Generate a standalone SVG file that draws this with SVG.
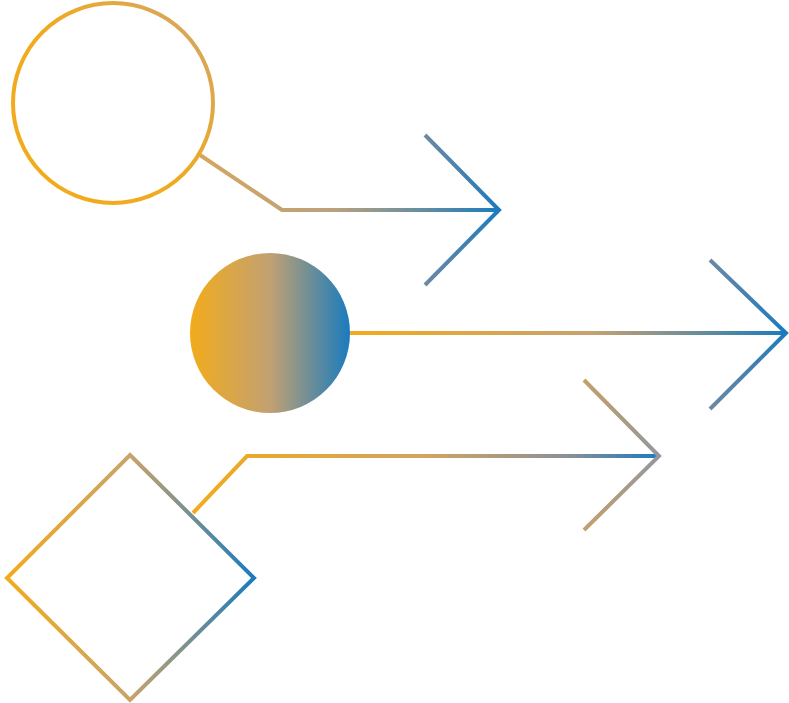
<svg xmlns="http://www.w3.org/2000/svg" width="789" height="703" viewBox="0 0 789 703">
<defs>
<linearGradient id="gC1" gradientUnits="userSpaceOnUse" x1="40" y1="180" x2="212" y2="40"><stop offset="0" stop-color="#F2AB1B"/><stop offset="0.5" stop-color="#F0AA22"/><stop offset="1" stop-color="#D6A65C"/></linearGradient>
<linearGradient id="gL1" gradientUnits="userSpaceOnUse" x1="200" y1="0" x2="500" y2="0"><stop offset="0" stop-color="#D6A65C"/><stop offset="0.45" stop-color="#B9A17E"/><stop offset="1" stop-color="#1A7BBE"/></linearGradient>
<linearGradient id="gA1" gradientUnits="userSpaceOnUse" x1="425" y1="0" x2="500" y2="0"><stop offset="0" stop-color="#6E88A4"/><stop offset="1" stop-color="#1A7BBE"/></linearGradient>
<linearGradient id="gF" x1="0" y1="0" x2="1" y2="0"><stop offset="0" stop-color="#F2AB1B"/><stop offset="0.5" stop-color="#C2A172"/><stop offset="1" stop-color="#1A7BBE"/></linearGradient>
<linearGradient id="gL2" gradientUnits="userSpaceOnUse" x1="350" y1="0" x2="787" y2="0"><stop offset="0" stop-color="#F2AB1B"/><stop offset="0.55" stop-color="#C7A26E"/><stop offset="1" stop-color="#1A7BBE"/></linearGradient>
<linearGradient id="gA2" gradientUnits="userSpaceOnUse" x1="710" y1="0" x2="787" y2="0"><stop offset="0" stop-color="#6E88A2"/><stop offset="1" stop-color="#1A7BBE"/></linearGradient>
<linearGradient id="gD" gradientUnits="userSpaceOnUse" x1="7" y1="0" x2="254" y2="0"><stop offset="0" stop-color="#F2AB1B"/><stop offset="0.5" stop-color="#C9A36A"/><stop offset="1" stop-color="#1A7BBE"/></linearGradient>
<linearGradient id="gL3" gradientUnits="userSpaceOnUse" x1="193" y1="0" x2="660" y2="0"><stop offset="0" stop-color="#F2AB1B"/><stop offset="0.5" stop-color="#D0A462"/><stop offset="0.8" stop-color="#8C9096"/><stop offset="1" stop-color="#1A7BBE"/></linearGradient>
<linearGradient id="gA3" gradientUnits="userSpaceOnUse" x1="584" y1="0" x2="660" y2="0"><stop offset="0" stop-color="#C4A06A"/><stop offset="1" stop-color="#9297A0"/></linearGradient>
</defs>
<style>.s{fill:none;stroke-width:4;stroke-linejoin:miter;stroke-linecap:butt}</style>
<g id="node-circle-outline"><circle class="s" cx="113" cy="103" r="100" stroke="url(#gC1)"/></g>
<g id="node-circle-filled"><circle cx="270" cy="333" r="80" fill="url(#gF)"/></g>
<g id="node-diamond"><polygon class="s" points="130,455 254,578 130,700 7,578" stroke="url(#gD)"/></g>
<g id="connectors">
<polyline class="s" points="200,155 282,210 500,210" stroke="url(#gL1)"/>
<polyline class="s" points="425,135 499,210 425,285" stroke="url(#gA1)"/>
<line class="s" x1="350" y1="333" x2="786" y2="333" stroke="url(#gL2)"/>
<polyline class="s" points="710,260 786,333 710,409" stroke="url(#gA2)"/>
<polyline class="s" points="193,513 247,456 660,456" stroke="url(#gL3)"/>
<polyline class="s" points="584,380 659,456 584,530" stroke="url(#gA3)"/>
</g>
</svg>
